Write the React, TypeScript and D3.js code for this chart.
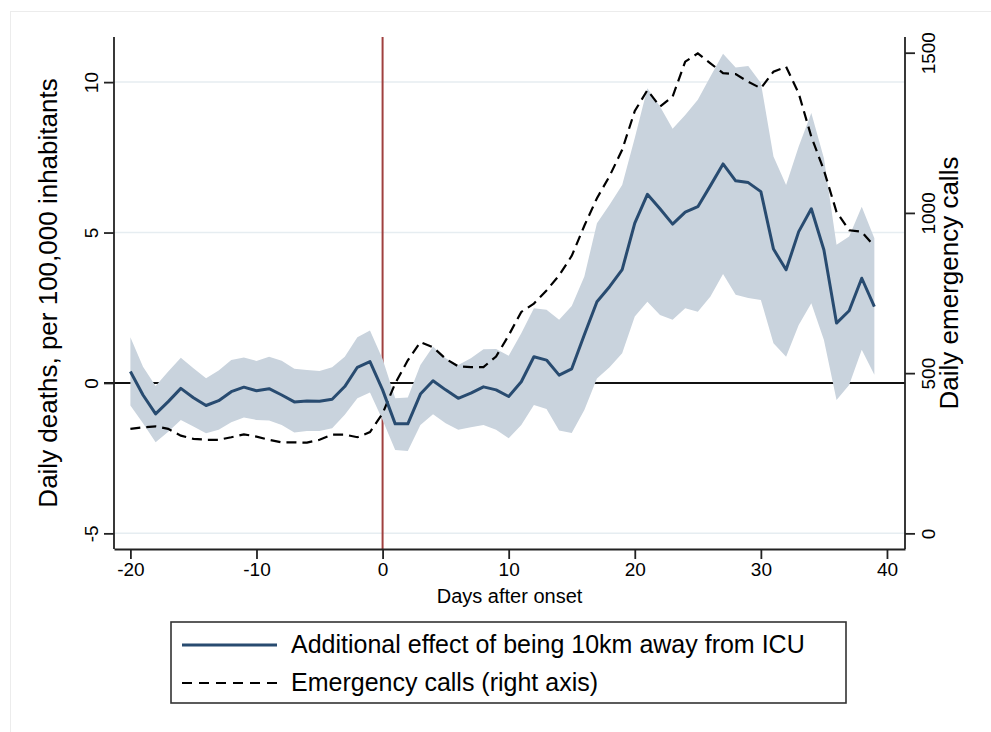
import * as React from 'react';
import * as d3 from 'd3';

// days after onset
const days = [
  -20, -19, -18, -17, -16, -15, -14, -13, -12, -11, -10, -9, -8, -7, -6, -5, -4, -3, -2, -1,
  0, 1, 2, 3, 4, 5, 6, 7, 8, 9, 10, 11, 12, 13, 14, 15, 16, 17, 18, 19,
  20, 21, 22, 23, 24, 25, 26, 27, 28, 29, 30, 31, 32, 33, 34, 35, 36, 37, 38, 39,
];

// additional effect of being 10km away from ICU (deaths per 100,000)
const effect = [
  0.38, -0.4, -1.03, -0.62, -0.18, -0.49, -0.75, -0.59, -0.29, -0.14, -0.26, -0.19, -0.4, -0.63, -0.6, -0.61, -0.54, -0.12, 0.52, 0.71,
  -0.23, -1.36, -1.36, -0.37, 0.07, -0.23, -0.51, -0.34, -0.13, -0.23, -0.45, 0.04, 0.87, 0.76, 0.26, 0.47, 1.6, 2.7, 3.2, 3.77,
  5.31, 6.27, 5.79, 5.28, 5.68, 5.86, 6.56, 7.28, 6.72, 6.66, 6.36, 4.45, 3.76, 5.03, 5.79, 4.42, 1.99, 2.4, 3.48, 2.54,
];

const upper = [
  1.52, 0.54, -0.1, 0.38, 0.84, 0.49, 0.16, 0.41, 0.76, 0.85, 0.73, 0.87, 0.74, 0.47, 0.43, 0.4, 0.52, 0.87, 1.52, 1.74,
  0.8, -0.51, -0.48, 0.6, 1.21, 0.82, 0.6, 0.82, 1.12, 1.13, 0.9, 1.65, 2.48, 2.43, 2.1, 2.56, 3.54, 5.31, 5.92, 6.58,
  8.14, 9.8, 9.19, 8.45, 8.91, 9.41, 10.19, 10.94, 10.49, 10.54, 9.97, 7.53, 6.58, 7.86, 8.97, 7.47, 4.59, 4.87, 5.86, 4.81,
];

const lower = [
  -0.75, -1.34, -1.97, -1.62, -1.23, -1.45, -1.67, -1.56, -1.31, -1.15, -1.23, -1.25, -1.4, -1.65, -1.6, -1.6, -1.51, -1.06, -0.51, -0.32,
  -1.23, -2.23, -2.26, -1.4, -1.04, -1.34, -1.56, -1.47, -1.4, -1.56, -1.84, -1.4, -0.73, -0.87, -1.58, -1.66, -0.9, 0.15, 0.52, 0.99,
  2.21, 2.7, 2.26, 2.1, 2.48, 2.37, 2.87, 3.62, 2.93, 2.82, 2.76, 1.32, 0.87, 1.93, 2.65, 1.43, -0.57, -0.07, 1.1, 0.27,
];

// daily emergency calls (right axis)
const calls = [
  326, 331, 334, 326, 305, 295, 292, 292, 300, 309, 302, 292, 284, 284, 283, 292, 308, 308, 300, 316,
  374, 468, 540, 597, 581, 545, 521, 519, 519, 552, 618, 691, 717, 758, 805, 866, 960, 1046, 1115, 1197,
  1318, 1383, 1332, 1363, 1472, 1498, 1467, 1436, 1433, 1409, 1389, 1441, 1456, 1373, 1238, 1133, 1003, 946, 941, 896,
];

const xTicks = [-20, -10, 0, 10, 20, 30, 40];
const yLeftTicks = [-5, 0, 5, 10];
const yRightTicks = [0, 500, 1000, 1500];

const legendItems = [
  { label: 'Additional effect of being 10km away from ICU', dash: null },
  { label: 'Emergency calls (right axis)', dash: '10,7' },
];

const FONT = '"Liberation Sans", Arial, Helvetica, sans-serif';
const NAVY = '#284b70';
const BAND = '#c9d3dd';

// plain hyphen for negatives, like the original
const fmt = (d: any) => String(d);

export default function App() {
  const ref = React.useRef<SVGSVGElement | null>(null);

  React.useEffect(() => {
    if (!ref.current) return;
    const svg = d3.select(ref.current);
    svg.selectAll('*').remove();

    const width = 991;
    const height = 732;
    const plot = { left: 114, right: 905, top: 37, bottom: 549 };

    const x = d3.scaleLinear().domain([-21.3, 41.43]).range([plot.left, plot.right]);
    const yL = d3.scaleLinear().domain([-5.52, 11.5]).range([plot.bottom, plot.top]);
    const yR = d3.scaleLinear().domain([0, 1500]).range([yL(-5), 52.7]);

    const rows = days.map((d, i) => ({ d, e: effect[i], hi: upper[i], lo: lower[i], c: calls[i] }));

    // faint outer frame
    svg.append('rect')
      .attr('x', 10.5).attr('y', 11.5)
      .attr('width', width).attr('height', height)
      .attr('fill', 'none').attr('stroke', '#ececec');

    // grid
    svg.append('g')
      .selectAll('line')
      .data(yLeftTicks)
      .join('line')
      .attr('x1', plot.left).attr('x2', plot.right)
      .attr('y1', d => yL(d)).attr('y2', d => yL(d))
      .attr('stroke', '#e6edf1').attr('stroke-width', 1.5);

    // reference lines
    svg.append('line')
      .attr('x1', plot.left - 10).attr('x2', plot.right)
      .attr('y1', yL(0)).attr('y2', yL(0))
      .attr('stroke', '#111').attr('stroke-width', 2);
    svg.append('line')
      .attr('x1', x(0)).attr('x2', x(0))
      .attr('y1', plot.top).attr('y2', plot.bottom)
      .attr('stroke', '#a0403f').attr('stroke-width', 2);

    // CI band
    const area = d3.area<typeof rows[number]>()
      .x(r => x(r.d))
      .y0(r => yL(r.lo))
      .y1(r => yL(r.hi));
    svg.append('path').attr('d', area(rows) as string).attr('fill', BAND);

    // emergency calls
    const callLine = d3.line<typeof rows[number]>().x(r => x(r.d)).y(r => yR(r.c));
    svg.append('path')
      .attr('d', callLine(rows) as string)
      .attr('fill', 'none').attr('stroke', '#000')
      .attr('stroke-width', 2.2).attr('stroke-dasharray', '10,6');

    // effect
    const effLine = d3.line<typeof rows[number]>().x(r => x(r.d)).y(r => yL(r.e));
    svg.append('path')
      .attr('d', effLine(rows) as string)
      .attr('fill', 'none').attr('stroke', NAVY)
      .attr('stroke-width', 3).attr('stroke-linejoin', 'round');

    // axes
    const styleAxis = (g: any) => {
      g.select('.domain').attr('stroke', '#222').attr('stroke-width', 1.8);
      g.selectAll('.tick line').attr('stroke', '#222').attr('stroke-width', 1.8);
      g.selectAll('text').attr('fill', '#000').attr('font-family', FONT).attr('font-size', 19);
    };

    const gx = svg.append('g')
      .attr('transform', `translate(0,${plot.bottom})`)
      .call(d3.axisBottom(x).tickValues(xTicks).tickSize(10).tickSizeOuter(0).tickFormat(fmt) as any);
    styleAxis(gx);
    gx.selectAll('text').attr('y', 14).attr('dy', '0.71em');

    const gl = svg.append('g')
      .attr('transform', `translate(${plot.left},0)`)
      .call(d3.axisLeft(yL).tickValues(yLeftTicks).tickSize(10).tickSizeOuter(0).tickFormat(fmt) as any);
    styleAxis(gl);
    gl.select('.domain').attr('d', `M0,${plot.top}V${plot.bottom}`);
    gl.selectAll('text')
      .attr('transform', 'rotate(-90)')
      .attr('x', 0).attr('y', -16).attr('dy', 0)
      .attr('text-anchor', 'middle');

    const gr = svg.append('g')
      .attr('transform', `translate(${plot.right},0)`)
      .call(d3.axisRight(yR).tickValues(yRightTicks).tickSize(10).tickSizeOuter(0).tickFormat(fmt) as any);
    styleAxis(gr);
    gr.select('.domain').attr('d', `M0,${plot.top}V${plot.bottom}`);
    gr.selectAll('text')
      .attr('transform', 'rotate(-90)')
      .attr('x', 0).attr('y', 30).attr('dy', 0)
      .attr('text-anchor', 'middle');

    // axis titles
    svg.append('text')
      .attr('x', (plot.left + plot.right) / 2).attr('y', 603)
      .attr('text-anchor', 'middle')
      .attr('font-family', FONT).attr('font-size', 20)
      .text('Days after onset');
    svg.append('text')
      .attr('transform', `translate(57,${(plot.top + plot.bottom) / 2}) rotate(-90)`)
      .attr('text-anchor', 'middle')
      .attr('font-family', FONT).attr('font-size', 26)
      .text('Daily deaths, per 100,000 inhabitants');
    svg.append('text')
      .attr('transform', `translate(958,283) rotate(-90)`)
      .attr('text-anchor', 'middle')
      .attr('font-family', FONT).attr('font-size', 26)
      .text('Daily emergency calls');

    // legend
    const lg = svg.append('g');
    lg.append('rect')
      .attr('x', 171).attr('y', 622).attr('width', 675).attr('height', 81)
      .attr('fill', '#fff').attr('stroke', '#333').attr('stroke-width', 1.6);
    legendItems.forEach((item, i) => {
      const cy = 645 + i * 38;
      lg.append('line')
        .attr('x1', 182).attr('x2', 277).attr('y1', cy).attr('y2', cy)
        .attr('stroke', item.dash ? '#000' : NAVY)
        .attr('stroke-width', item.dash ? 2 : 3)
        .attr('stroke-dasharray', item.dash ?? null);
      lg.append('text')
        .attr('x', 291).attr('y', cy + 8)
        .attr('font-family', FONT).attr('font-size', 25)
        .text(item.label);
    });
  }, []);

  return (
    <svg
      ref={ref}
      width={991}
      height={732}
      viewBox="0 0 991 732"
      style={{ position: 'absolute', left: 0, top: 0, background: '#fff' }}
    />
  );
}
